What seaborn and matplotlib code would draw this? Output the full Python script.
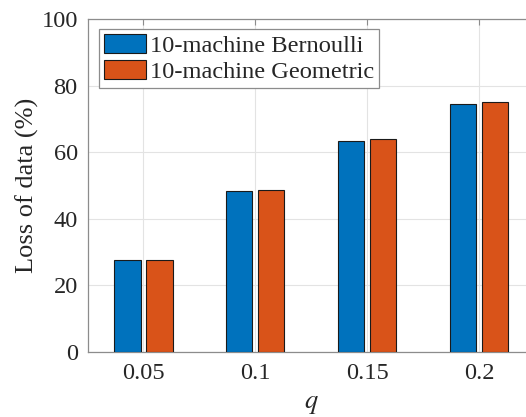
import matplotlib
matplotlib.use("Agg")
import matplotlib.pyplot as plt
import seaborn as sns
import pandas as pd

# Loss-of-data percentages per failure probability q
q_labels = ["0.05", "0.1", "0.15", "0.2"]
bernoulli = [27.6, 48.3, 63.4, 74.4]
geometric = [27.7, 48.6, 64.0, 75.1]
series_names = ["10-machine Bernoulli", "10-machine Geometric"]
y_ticks = [0, 20, 40, 60, 80, 100]

df = pd.DataFrame({
    "q": q_labels * 2,
    "loss": bernoulli + geometric,
    "series": [series_names[0]] * len(q_labels) + [series_names[1]] * len(q_labels),
})

sns.set_theme(style="white")
plt.rcParams["font.family"] = ["Liberation Serif", "DejaVu Serif"]
plt.rcParams["mathtext.fontset"] = "stix"

fs = 17.6
fs_label = 19
fig = plt.figure(figsize=(5.26, 4.17), dpi=100)
ax = fig.add_axes([0.1664, 0.1559, 0.8508, 0.7986])

palette = {series_names[0]: "#0072BD", series_names[1]: "#D95319"}
sns.barplot(data=df, x="q", y="loss", hue="series", order=q_labels,
            hue_order=series_names, palette=palette, width=0.572, gap=0.185,
            edgecolor="#1a1a1a", linewidth=0.8, saturation=1, ax=ax, zorder=3)

ax.set_xlim(-0.5, 3.5)
ax.set_ylim(0, 100)
ax.set_yticks(y_ticks)
ax.grid(True, color="#e3e3e3", linewidth=0.8, zorder=0)
ax.set_axisbelow(True)

for s in ax.spines.values():
    s.set_color("#8c8c8c")
    s.set_linewidth(0.9)
ax.spines["right"].set_visible(False)

ax.tick_params(axis="both", direction="in", length=4, width=0.8, color="#8c8c8c",
               labelsize=fs, labelcolor="#262626", top=True, right=False, pad=7)
ax.tick_params(axis="x", pad=8)

ax.set_xlabel("$q$", fontsize=fs_label, color="#262626", labelpad=7)
ax.set_ylabel("Loss of data (%)", fontsize=fs_label, color="#262626", labelpad=2)

leg = ax.legend(loc="upper left", bbox_to_anchor=(0.0264, 0.969), fontsize=fs,
                frameon=True, fancybox=False, edgecolor="#8c8c8c", framealpha=1,
                handlelength=1.7, handleheight=0.82, handletextpad=0.16,
                labelspacing=0.1, borderpad=0.2, borderaxespad=0)
leg.get_frame().set_linewidth(0.9)
for t in leg.get_texts():
    t.set_color("#262626")

fig.savefig("out.png", dpi=100)
